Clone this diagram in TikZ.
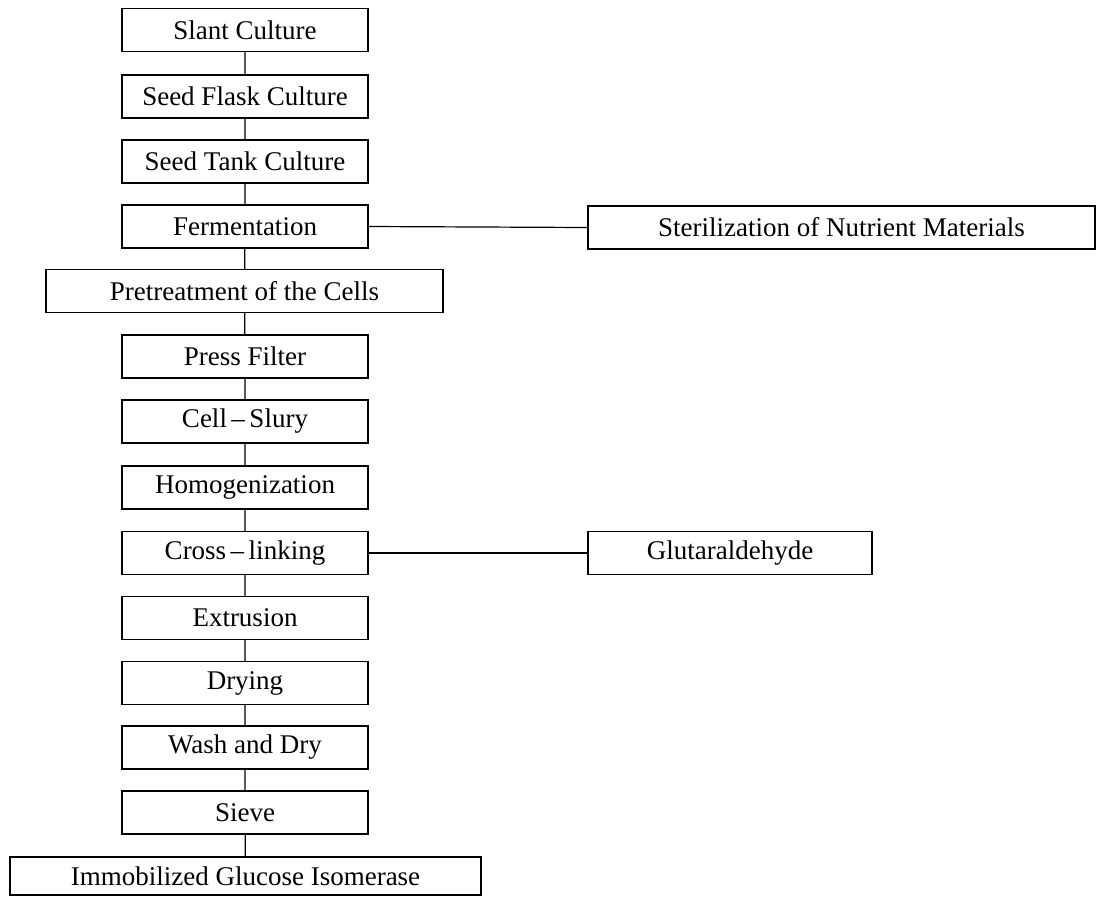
\documentclass[tikz,border=0pt]{standalone}
\usepackage{fontspec}
\setmainfont{Liberation Serif}
\begin{document}
\begin{tikzpicture}[x=1pt,y=-1pt,
  stage/.style={draw, line width=1.1pt, minimum width=246pt, minimum height=43pt,
    inner sep=0pt, font=\fontsize{27}{31}\selectfont},
  link/.style={line width=1.2pt}]
\useasboundingbox (0,0) rectangle (1101,897);
% main process column
\node[stage] (slant) at (245,30) {Slant Culture};
\node[stage] (flask) at (245,96.5) {Seed Flask Culture};
\node[stage] (tank)  at (245,161.5) {Seed Tank Culture};
\node[stage] (ferm)  at (245,226.5) {Fermentation};
\node[stage, minimum width=397pt] (pre) at (244.5,291) {Pretreatment of the Cells};
\node[stage] (press) at (245,356.5) {Press Filter};
\node[stage] (cell)  at (245,421.5) {Cell\,--\,Slury};
\node[stage] (homog) at (245,487.5) {Homogenization};
\node[stage] (cross) at (245,553) {Cross\,--\,linking};
\node[stage] (extr)  at (245,618) {Extrusion};
\node[stage] (dry)   at (245,683) {Drying};
\node[stage] (wash)  at (245,747.5) {Wash and Dry};
\node[stage] (sieve) at (245,812.5) {Sieve};
\node[stage, minimum width=471pt, minimum height=38pt] (immob) at (245.5,876) {Immobilized Glucose Isomerase};
% side inputs
\node[stage, minimum width=507pt] (steril) at (841.5,227.5) {Sterilization of Nutrient Materials};
\node[stage, minimum width=284pt] (glut) at (730,553) {Glutaraldehyde};
% connectors
\draw[link] (slant) -- (flask) -- (tank) -- (ferm) -- (pre) -- (press) -- (cell)
  -- (homog) -- (cross) -- (extr) -- (dry) -- (wash) -- (sieve) -- (immob);
\draw[link] (ferm.east) -- (steril.west);
\draw[link] (cross.east) -- (glut.west);
\end{tikzpicture}
\end{document}
